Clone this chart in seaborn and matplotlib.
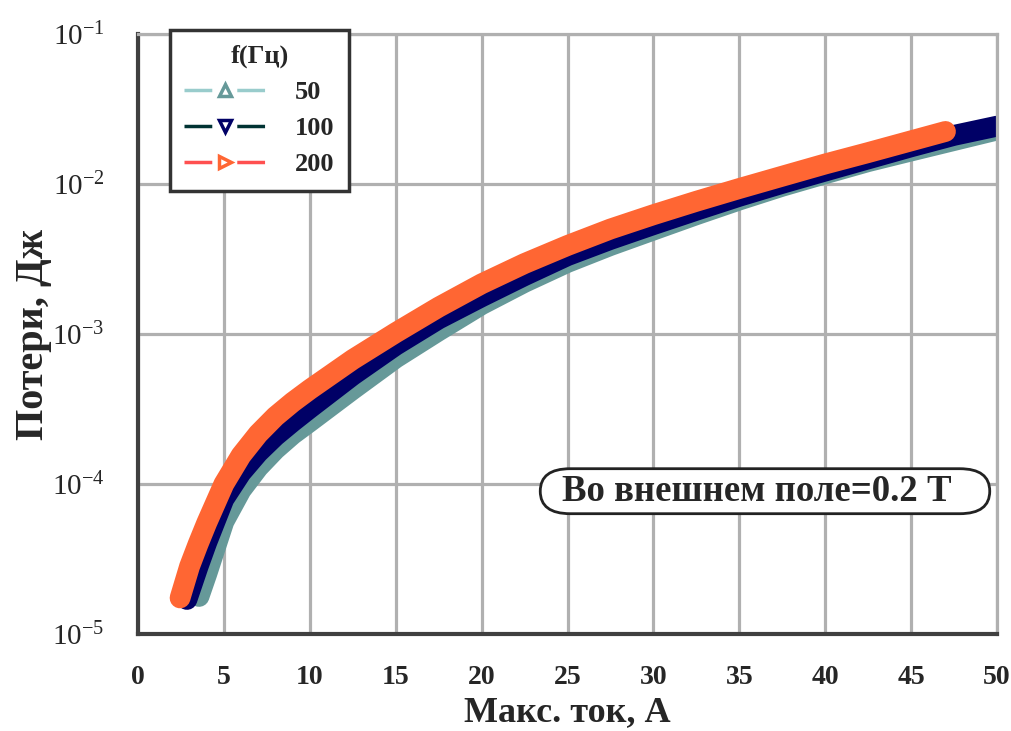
import matplotlib
matplotlib.use("Agg")
import matplotlib.pyplot as plt
from matplotlib.lines import Line2D
from matplotlib.patches import FancyBboxPatch
from matplotlib.ticker import LogLocator, MultipleLocator, FuncFormatter, NullFormatter
import seaborn as sns
import pandas as pd
import numpy as np

# ---- data ----
freq_labels = ["50", "100", "200"]

x_50 = [3.55, 4, 5, 6, 7, 8, 9, 10, 12.5, 15, 17.5, 20, 22.5, 25, 27.5, 30,
        32.5, 35, 37.5, 40, 42.5, 45, 47.5, 50]
y_50 = [1.78e-5, 2.51e-5, 5.62e-5, 9.12e-5, 1.29e-4, 1.70e-4, 2.14e-4, 2.60e-4,
        4.27e-4, 6.92e-4, 1.05e-3, 1.57e-3, 2.21e-3, 3.00e-3, 3.89e-3, 4.93e-3,
        6.24e-3, 7.82e-3, 9.66e-3, 1.17e-2, 1.41e-2, 1.66e-2, 1.95e-2, 2.29e-2]

x_100 = [2.85, 3.5, 4, 5, 6, 7, 8, 9, 10, 12.5, 15, 17.5, 20, 22.5, 25, 27.5,
         30, 32.5, 35, 37.5, 40, 42.5, 45, 47.5, 50]
y_100 = [1.70e-5, 2.82e-5, 4.07e-5, 7.94e-5, 1.19e-4, 1.62e-4, 2.09e-4, 2.60e-4,
         3.20e-4, 5.31e-4, 8.41e-4, 1.26e-3, 1.77e-3, 2.45e-3, 3.33e-3, 4.27e-3,
         5.36e-3, 6.68e-3, 8.28e-3, 1.01e-2, 1.22e-2, 1.47e-2, 1.77e-2, 2.11e-2,
         2.43e-2]

x_200 = [2.45, 3, 3.5, 4, 5, 6, 7, 8, 9, 10, 12.5, 15, 17.5, 20, 22.5, 25,
         27.5, 30, 32.5, 35, 37.5, 40, 42.5, 45, 47]
y_200 = [1.74e-5, 2.82e-5, 3.98e-5, 5.50e-5, 1.00e-4, 1.55e-4, 2.16e-4, 2.82e-4,
         3.51e-4, 4.27e-4, 6.76e-4, 1.02e-3, 1.51e-3, 2.16e-3, 2.95e-3, 3.89e-3,
         5.01e-3, 6.24e-3, 7.67e-3, 9.33e-3, 1.127e-2, 1.36e-2, 1.62e-2, 1.94e-2,
         2.24e-2]

x_ticks = [0, 5, 10, 15, 20, 25, 30, 35, 40, 45, 50]

# ---- styling ----
sns.set_theme(style="white")
plt.rcParams['font.family'] = ['Liberation Serif', 'DejaVu Serif']
plt.rcParams['mathtext.fontset'] = 'custom'
plt.rcParams['mathtext.rm'] = 'Liberation Serif'
plt.rcParams['mathtext.it'] = 'Liberation Serif'
plt.rcParams['mathtext.default'] = 'rm'

band_colors = {"50": "#669999", "100": "#000066", "200": "#FF6633"}
legend_line_colors = {"50": "#99CCCC", "100": "#003333", "200": "#FF5050"}
legend_markers = {"50": "^", "100": "v", "200": ">"}

df = pd.concat([
    pd.DataFrame({"I": x_50, "Q": y_50, "f": "50"}),
    pd.DataFrame({"I": x_100, "Q": y_100, "f": "100"}),
    pd.DataFrame({"I": x_200, "Q": y_200, "f": "200"}),
], ignore_index=True)

fig = plt.figure(figsize=(10.11, 7.31), dpi=100)
ax = fig.add_axes([138 / 1011, 1 - 634 / 731, (997 - 138) / 1011, 600 / 731])

grid_col = "#B0B0B0"
ax.set_yscale("log")
ax.set_xlim(0, 50)
ax.set_ylim(1e-5, 1e-1)

ax.set_axisbelow(True)
ax.grid(True, which="major", color=grid_col, linewidth=2.3)

for lab in freq_labels:
    sub = df[df["f"] == lab]
    sns.lineplot(data=sub, x="I", y="Q", ax=ax, color=band_colors[lab],
                 linewidth=15, solid_capstyle="round", solid_joinstyle="round",
                 legend=False, estimator=None, sort=True)

# axes / ticks
ax.set_xticks(x_ticks)
ax.xaxis.set_minor_locator(MultipleLocator(2.5))
ax.set_xticklabels([str(t) for t in x_ticks], fontsize=20, fontweight="bold")
ax.yaxis.set_major_locator(LogLocator(base=10, numticks=10))
ax.yaxis.set_minor_locator(LogLocator(base=10, subs=np.arange(2, 10), numticks=20))
ax.yaxis.set_minor_formatter(NullFormatter())
ax.yaxis.set_major_formatter(FuncFormatter(lambda v, p: r"$10^{%d}$" % int(round(np.log10(v)))))

ax.tick_params(axis="both", which="major", direction="in", length=9, width=2.5,
               color="#555555")
ax.tick_params(axis="both", which="minor", direction="in", length=6, width=2,
               color="#222222")
ax.tick_params(axis="y", which="major", labelsize=21, pad=24)
ax.tick_params(axis="x", which="major", pad=22)

for side in ["left", "bottom"]:
    ax.spines[side].set_color("#404040")
    ax.spines[side].set_linewidth(3)
for side in ["top", "right"]:
    ax.spines[side].set_color(grid_col)
    ax.spines[side].set_linewidth(2.3)

ax.set_xlabel("Макс. ток, А", fontsize=26, fontweight="bold", labelpad=5)
ax.set_ylabel("Потери, Дж", fontsize=29, fontweight="bold", labelpad=0)

# legend
handles = [Line2D([0], [0], color=legend_line_colors[lab], linewidth=2.5,
                  linestyle=(0, (8, 7.2)), marker=legend_markers[lab],
                  markersize=9, markerfacecolor="white",
                  markeredgecolor=band_colors[lab], markeredgewidth=2.5)
           for lab in freq_labels]
leg = ax.legend(handles, freq_labels, title="f(Гц)", loc="upper left",
                bbox_to_anchor=(0.037, 1.007), borderaxespad=0,
                frameon=True, fancybox=False, handlelength=3.05,
                handletextpad=1.15, labelspacing=0.48, borderpad=0.55,
                prop={"size": 19, "weight": "bold"},
                title_fontproperties={"size": 19, "weight": "bold"})
leg.get_frame().set_edgecolor("#333333")
leg.get_frame().set_linewidth(2.5)
leg.get_frame().set_facecolor("white")
leg.get_frame().set_alpha(1)

# annotation with an oval-ended frame
note = ax.text(0.7206, 0.238, "Во внешнем поле=0.2 Т", transform=ax.transAxes,
               ha="center", va="center", fontsize=26.5, fontweight="bold",
               zorder=6)
fig.canvas.draw()
bb = note.get_window_extent()
pad_l, pad_r, pad_y = 22, 38, 5
h = bb.height + 2 * pad_y
rx = 30.0
frame = FancyBboxPatch((bb.x0 - pad_l, bb.y0 - pad_y), bb.width + pad_l + pad_r, h,
                       boxstyle="round,pad=0,rounding_size=%f" % rx,
                       mutation_aspect=(h / 2) / rx,
                       facecolor="white", edgecolor="#222222", linewidth=2,
                       transform=None, zorder=5, clip_on=False)
ax.add_artist(frame)

fig.savefig("out.png", dpi=100)
